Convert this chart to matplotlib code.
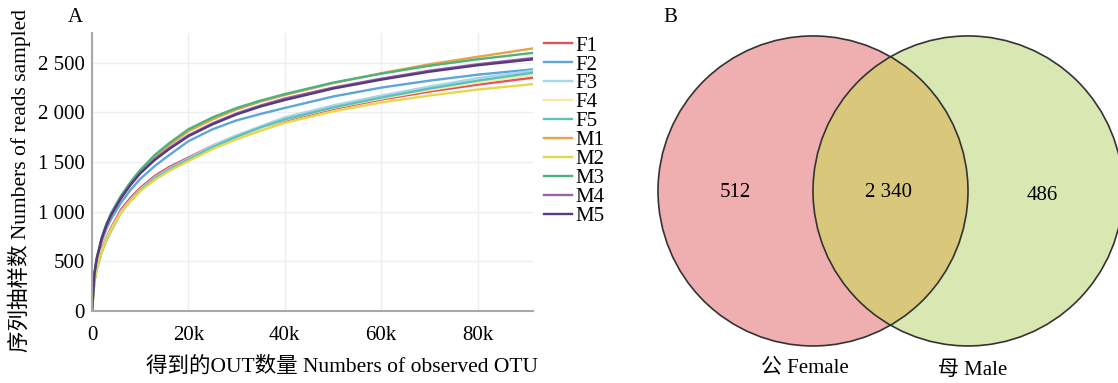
import matplotlib
matplotlib.use("Agg")
from matplotlib import pyplot as plt
from matplotlib.patches import Circle

plt.rcParams['font.family'] = ['Liberation Serif', 'Noto Sans CJK SC']

# rarefaction curves, x in reads (thousands)
depth_k = [0, 0.5, 1, 2, 3, 4, 6, 8, 10, 13, 16, 20, 25, 30, 35, 40, 50, 60, 70, 80, 91.5]

f1 = [0, 320, 450, 620, 740, 840, 1020, 1140, 1240, 1360, 1450, 1545, 1665, 1765, 1845, 1915, 2035, 2130, 2210, 2280, 2350]
f2 = [0, 360, 510, 700, 830, 930, 1090, 1220, 1330, 1460, 1570, 1710, 1830, 1920, 1985, 2045, 2160, 2250, 2320, 2380, 2434]
f3 = [0, 300, 430, 600, 720, 820, 1000, 1120, 1225, 1345, 1435, 1535, 1665, 1770, 1860, 1950, 2070, 2170, 2260, 2345, 2420]
f4 = [0, 305, 435, 605, 725, 825, 995, 1115, 1215, 1330, 1420, 1520, 1640, 1745, 1840, 1925, 2045, 2140, 2225, 2300, 2377]
f5 = [0, 290, 420, 590, 710, 810, 990, 1110, 1215, 1335, 1425, 1525, 1650, 1755, 1850, 1930, 2050, 2150, 2240, 2320, 2400]
m1 = [0, 370, 525, 720, 860, 970, 1140, 1280, 1400, 1550, 1670, 1810, 1930, 2030, 2110, 2175, 2295, 2395, 2485, 2560, 2645]
m2 = [0, 300, 430, 600, 720, 820, 990, 1105, 1205, 1320, 1410, 1510, 1630, 1730, 1815, 1895, 2010, 2100, 2170, 2230, 2286]
m3 = [0, 380, 540, 740, 880, 990, 1160, 1300, 1420, 1570, 1690, 1830, 1950, 2045, 2120, 2185, 2300, 2390, 2470, 2535, 2600]
m4 = [0, 372, 528, 725, 865, 972, 1140, 1275, 1392, 1530, 1640, 1770, 1890, 1990, 2070, 2140, 2250, 2340, 2420, 2485, 2548]
m5 = [0, 375, 530, 725, 865, 970, 1135, 1270, 1385, 1520, 1630, 1760, 1880, 1980, 2060, 2125, 2240, 2330, 2410, 2475, 2535]

samples = ['F1', 'F2', 'F3', 'F4', 'F5', 'M1', 'M2', 'M3', 'M4', 'M5']
series = [f1, f2, f3, f4, f5, m1, m2, m3, m4, m5]
colors = ['#E8505B', '#5DA5DA', '#A6D6EA', '#F2EBA8', '#5CC0BE',
          '#E8A24A', '#E6D84A', '#4DB37B', '#9C5FA8', '#553C7E']

y_ticks = [0, 500, 1000, 1500, 2000, 2500]
y_labels = ['0', '500', '1 000', '1 500', '2 000', '2 500']
x_ticks = [0, 20, 40, 60, 80]
x_labels = ['0', '20k', '40k', '60k', '80k']

# venn counts: female only, shared, male only
venn_counts = [512, 2340, 486]
venn_names = ['公 Female', '母 Male']

fig = plt.figure(figsize=(11.18, 3.83), dpi=100)

# ---- panel A
ax = fig.add_axes([92 / 1118, 1 - 311 / 383, 441 / 1118, 278 / 383])
for name, vals, c in zip(samples, series, colors):
    ax.plot(depth_k, vals, color=c, lw=1.7, label=name)

ax.set_xlim(0, 91.5)
ax.set_ylim(0, 2800)
ax.set_xticks(x_ticks)
ax.set_xticklabels(x_labels)
ax.set_yticks(y_ticks)
ax.set_yticklabels(y_labels)
ax.grid(True, color='#EEEEEE', lw=1)
ax.set_axisbelow(True)
for s in ['top', 'right']:
    ax.spines[s].set_visible(False)
for s in ['left', 'bottom']:
    ax.spines[s].set_color('#A8A8A8')
    ax.spines[s].set_linewidth(1.5)
ax.tick_params(axis='both', length=0, labelsize=15, colors='black')
ax.tick_params(axis='x', pad=11)
ax.tick_params(axis='y', pad=5)

fig.text(19 / 1118, 1 - 180 / 383, '序列抽样数 Numbers of reads sampled', rotation=90,
         ha='center', va='center', fontsize=15.5)
fig.text(342 / 1118, 1 - 367 / 383, '得到的OUT数量 Numbers of observed OTU',
         ha='center', va='center', fontsize=15.5)

fig.legend(loc='upper left', bbox_to_anchor=(544 / 1118, 1 - 36 / 383), frameon=False,
           fontsize=15, labelspacing=-0.03, handlelength=1.35, handletextpad=0.15,
           borderpad=0, borderaxespad=0)

fig.text(75 / 1118, 1 - 17 / 383, 'A', ha='center', va='center', fontsize=15)
fig.text(670 / 1118, 1 - 17 / 383, 'B', ha='center', va='center', fontsize=15)

# ---- panel B (venn, unit radius circles one radius apart)
ax2 = fig.add_axes([627 / 1118, 1 - 381.6 / 383, 503.75 / 1118, 381.3 / 383])
ax2.set_xlim(-1.2, 2.05)
ax2.set_ylim(-1.23, 1.23)
ax2.set_aspect('equal')
ax2.axis('off')

left = Circle((0, 0), 1, facecolor='#EFAEAF', edgecolor='none')
right = Circle((1, 0), 1, facecolor='#D9E8B2', edgecolor='none')
ax2.add_patch(left)
ax2.add_patch(right)
mid = Circle((1, 0), 1, facecolor='#D9C87B', edgecolor='none')
ax2.add_patch(mid)
mid.set_clip_path(left)
ax2.add_patch(Circle((0, 0), 1, facecolor='none', edgecolor='#333333', lw=1.2))
ax2.add_patch(Circle((1, 0), 1, facecolor='none', edgecolor='#333333', lw=1.2))

ax2.text(-0.5, -0.01, f'{venn_counts[0]}', ha='center', va='center', fontsize=15)
ax2.text(0.49, -0.01, f'{venn_counts[1]:,}'.replace(',', ' '), ha='center', va='center', fontsize=15)
ax2.text(1.48, -0.03, f'{venn_counts[2]}', ha='center', va='center', fontsize=15)
ax2.text(-0.05, -1.14, venn_names[0], ha='center', va='center', fontsize=15)
ax2.text(1.03, -1.155, venn_names[1], ha='center', va='center', fontsize=15)

plt.savefig('out.png', dpi=100)
